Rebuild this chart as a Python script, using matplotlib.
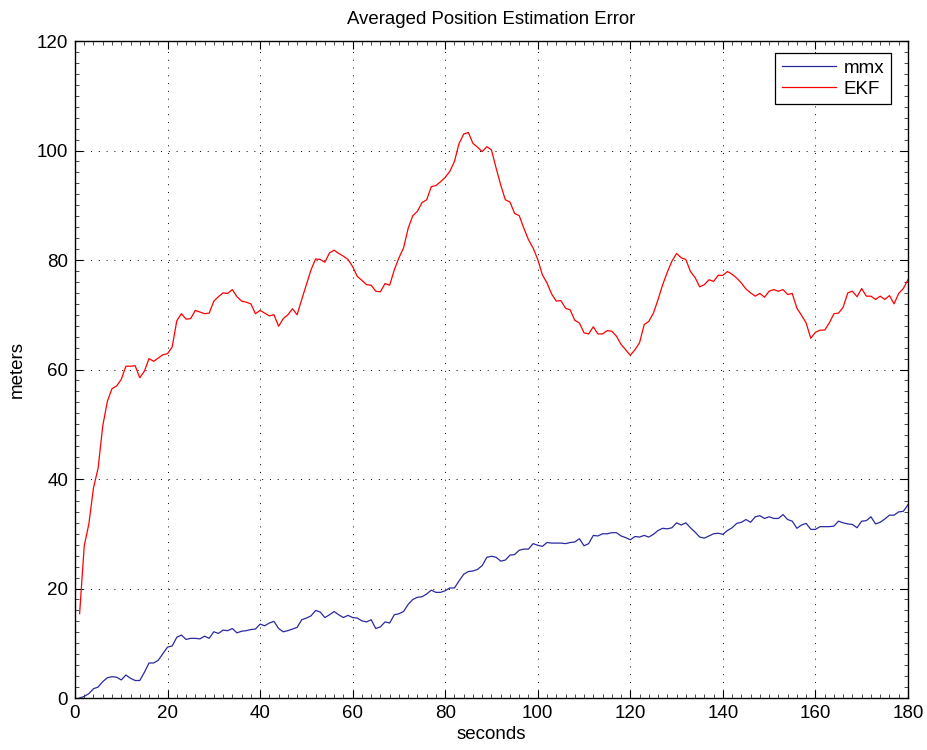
import matplotlib
matplotlib.use("Agg")
import matplotlib.pyplot as plt
import numpy as np
from matplotlib.ticker import MultipleLocator

plt.rcParams['font.family'] = ['Liberation Sans', 'DejaVu Sans']

# averaged error per second, 1 s .. 180 s
seconds = np.arange(1, 181)

mmx_err = [
    0.0, 0.3, 0.8, 1.7, 2.0, 3.0, 3.7, 3.9, 3.8, 3.3,
    4.2, 3.6, 3.2, 3.2, 4.7, 6.4, 6.4, 6.9, 8.1, 9.3,
    9.5, 11.1, 11.5, 10.7, 10.9, 10.9, 10.8, 11.3, 10.9, 12.1,
    11.8, 12.4, 12.3, 12.7, 11.9, 12.2, 12.3, 12.5, 12.6, 13.5,
    13.2, 13.7, 14.0, 12.7, 12.1, 12.3, 12.6, 12.9, 14.3, 14.6,
    15.0, 16.0, 15.7, 14.7, 15.2, 15.8, 15.2, 14.7, 15.1, 14.7,
    14.6, 14.1, 13.9, 14.3, 12.7, 13.0, 13.9, 13.7, 15.2, 15.4,
    15.8, 17.1, 18.0, 18.4, 18.5, 19.0, 19.7, 19.3, 19.3, 19.6,
    20.1, 20.1, 21.4, 22.6, 23.1, 23.2, 23.5, 24.2, 25.7, 25.9,
    25.7, 25.0, 25.2, 26.1, 26.2, 27.0, 27.2, 27.2, 28.2, 27.9,
    27.7, 28.4, 28.3, 28.3, 28.3, 28.2, 28.4, 28.5, 29.1, 27.8,
    28.2, 29.7, 29.6, 30.0, 30.0, 30.2, 30.2, 29.6, 29.3, 28.9,
    29.5, 29.4, 29.7, 29.4, 29.9, 30.6, 31.0, 30.9, 31.1, 32.0,
    31.6, 32.0, 31.1, 30.3, 29.4, 29.2, 29.6, 30.0, 30.1, 29.9,
    30.6, 31.1, 31.9, 32.1, 32.6, 32.1, 33.1, 33.3, 32.8, 33.1,
    32.8, 32.8, 33.5, 32.6, 32.3, 31.0, 31.6, 31.9, 30.8, 30.8,
    31.3, 31.3, 31.3, 31.4, 32.3, 32.0, 31.8, 31.7, 31.1, 32.3,
    32.4, 33.1, 31.8, 32.1, 32.7, 33.4, 33.4, 34.0, 34.1, 35.3,
]

ekf_err = [
    15.4, 27.8, 31.8, 38.4, 42.0, 49.7, 54.2, 56.5, 57.0, 58.2,
    60.6, 60.6, 60.7, 58.5, 59.7, 62.0, 61.5, 62.1, 62.7, 62.9,
    64.1, 68.9, 70.2, 69.2, 69.3, 70.8, 70.5, 70.2, 70.3, 72.5,
    73.3, 74.0, 73.9, 74.6, 73.3, 72.5, 72.3, 72.0, 70.2, 70.8,
    70.3, 69.8, 70.0, 67.9, 69.3, 70.0, 71.1, 70.0, 72.8, 75.5,
    78.2, 80.2, 80.1, 79.6, 81.3, 81.8, 81.2, 80.7, 80.1, 78.8,
    77.0, 76.3, 75.5, 75.4, 74.3, 74.2, 75.7, 75.4, 78.2, 80.4,
    82.2, 85.8, 88.1, 88.9, 90.5, 91.0, 93.4, 93.6, 94.3, 95.1,
    96.2, 98.0, 101.3, 103.0, 103.3, 101.3, 100.6, 99.8, 100.7, 100.1,
    96.8, 93.7, 91.0, 90.6, 88.5, 88.1, 85.8, 83.7, 82.2, 80.1,
    77.3, 75.8, 73.8, 72.5, 72.6, 71.2, 70.9, 69.0, 68.5, 66.7,
    66.5, 67.8, 66.5, 66.5, 67.1, 67.0, 66.1, 64.6, 63.6, 62.6,
    63.6, 64.9, 68.2, 68.8, 70.3, 72.8, 75.5, 77.8, 79.8, 81.2,
    80.4, 80.1, 77.9, 76.8, 75.1, 75.5, 76.4, 76.1, 77.2, 77.2,
    77.9, 77.4, 76.7, 75.8, 74.7, 74.0, 73.4, 73.9, 73.2, 74.3,
    74.6, 74.3, 74.6, 73.7, 73.9, 71.2, 69.9, 68.5, 65.7, 66.8,
    67.2, 67.2, 68.5, 70.2, 70.3, 71.4, 74.0, 74.3, 73.3, 74.8,
    73.4, 73.4, 72.8, 73.4, 72.8, 73.5, 72.0, 73.9, 74.8, 76.4,
]

fig = plt.figure(figsize=(9.28, 7.5), dpi=100)
ax = fig.add_axes([0.0808, 0.0693, 0.8976, 0.876])

ax.plot(seconds, mmx_err, color='#2a2aa0', linewidth=0.9, label='mmx')
ax.plot(seconds, ekf_err, color='#ff0000', linewidth=0.9, label='EKF')

ax.set_xlim(0, 180)
ax.set_ylim(0, 120)
ax.xaxis.set_major_locator(MultipleLocator(20))
ax.yaxis.set_major_locator(MultipleLocator(20))
ax.xaxis.set_minor_locator(MultipleLocator(2))
ax.yaxis.set_minor_locator(MultipleLocator(2))

ax.tick_params(which='both', direction='in', top=True, right=True, labelsize=13.5, pad=5)
ax.tick_params(which='major', length=6, width=0.8)
ax.tick_params(which='minor', length=3, width=0.5)
for s in ax.spines.values():
    s.set_linewidth(1.0)

ax.grid(True, which='major', color='black', linestyle=(0, (1, 7)), linewidth=0.7)

ax.set_title('Averaged Position Estimation Error', fontsize=13.4, pad=12)
ax.set_xlabel('seconds', fontsize=13.5, labelpad=3)
ax.set_ylabel('meters', fontsize=13.5, labelpad=8)

leg = ax.legend(loc='upper right', fontsize=13.5, fancybox=False, framealpha=1,
                edgecolor='black', borderpad=0.35, handlelength=2.9,
                handletextpad=0.4, labelspacing=0.2, borderaxespad=0,
                bbox_to_anchor=(0.9796, 0.9817))
leg.get_frame().set_linewidth(0.9)

fig.savefig('out.png', dpi=100)
